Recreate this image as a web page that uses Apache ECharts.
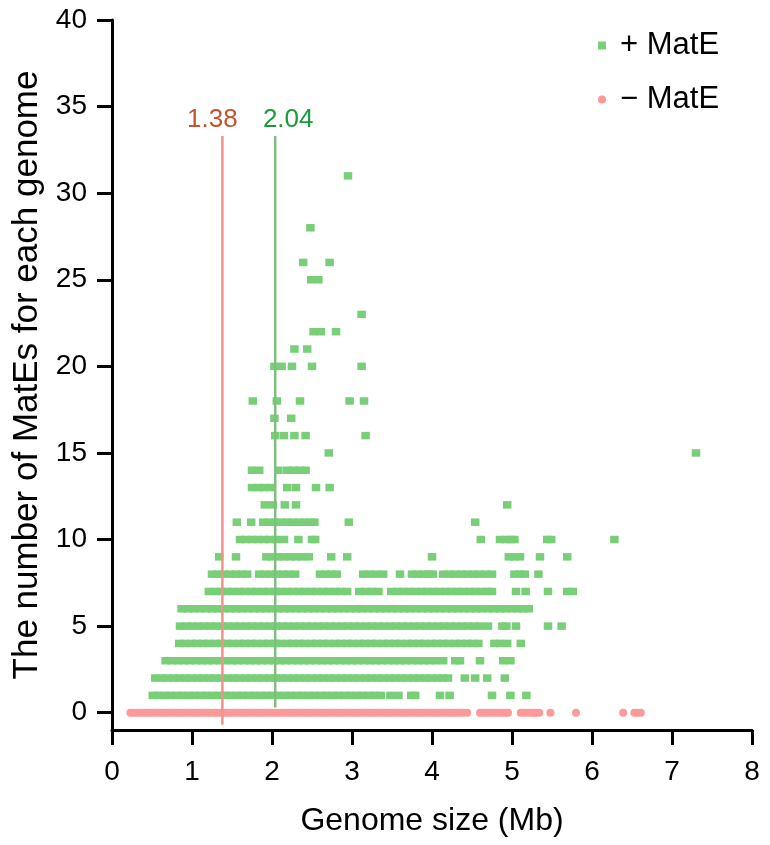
<!DOCTYPE html>
<html>
<head>
<meta charset="UTF-8">
<title>MatEs per genome</title>
<script src="https://cdn.jsdelivr.net/npm/echarts@6/dist/echarts.min.js"></script>
</head>
<body style="margin:0;background:#fff">
<div id="chart" style="width:770px;height:845px;"></div>
<script>
// genome sizes (Mb) of genomes without any MatE (count = 0)
var minusSizes = [0.23,0.27,0.31,0.35,0.39,0.43,0.47,0.51,0.55,0.59,0.63,0.67,0.71,0.75,0.79,0.83,0.87,0.91,0.95,0.99,
  1.03,1.07,1.11,1.15,1.19,1.23,1.27,1.31,1.35,1.39,1.43,1.47,1.51,1.55,1.59,1.63,1.67,1.71,1.75,1.79,1.83,1.87,1.91,1.95,1.99,
  2.03,2.07,2.11,2.15,2.19,2.23,2.27,2.31,2.35,2.39,2.43,2.47,2.51,2.55,2.59,2.63,2.67,2.71,2.75,2.79,2.83,2.87,2.91,2.95,2.99,
  3.03,3.07,3.11,3.15,3.19,3.23,3.27,3.31,3.35,3.39,3.43,3.47,3.51,3.55,3.59,3.63,3.67,3.71,3.75,3.79,3.83,3.87,3.91,3.95,3.99,
  4.03,4.07,4.11,4.15,4.19,4.23,4.27,4.31,4.35,4.39,4.44,4.60,4.64,4.68,4.72,4.76,4.80,4.84,4.88,4.92,4.95,
  5.11,5.15,5.19,5.23,5.27,5.30,5.34,5.48,5.80,6.39,6.53,6.57,6.61];

// genome sizes (Mb) of genomes carrying MatEs, one array per MatE count
var sizes1 = [0.51,0.58,0.66,0.73,0.81,0.88,0.96,1.03,1.11,1.18,1.26,1.33,1.41,1.48,1.56,1.63,1.71,1.78,1.86,1.93,2.01,2.08,2.16,2.23,2.31,2.38,2.46,2.53,2.61,2.68,2.76,2.83,2.91,2.98,3.06,3.13,3.21,3.28,3.36,3.48,3.58,3.74,3.79,4.10,4.22,4.75,4.98,5.18];
var sizes2 = [0.54,0.62,0.69,0.77,0.84,0.92,0.99,1.07,1.14,1.22,1.29,1.37,1.44,1.52,1.59,1.67,1.74,1.82,1.89,1.97,2.04,2.12,2.19,2.27,2.34,2.42,2.49,2.57,2.64,2.72,2.79,2.87,2.94,3.02,3.09,3.17,3.24,3.32,3.39,3.47,3.54,3.62,3.69,3.77,3.84,3.92,3.99,4.07,4.14,4.20,4.41,4.54,4.69,4.91];
var sizes3 = [0.67,0.75,0.82,0.90,0.97,1.05,1.12,1.20,1.27,1.35,1.42,1.50,1.57,1.65,1.72,1.80,1.87,1.95,2.02,2.10,2.17,2.25,2.32,2.40,2.47,2.55,2.62,2.70,2.77,2.85,2.92,3.00,3.07,3.15,3.22,3.30,3.37,3.45,3.52,3.60,3.67,3.75,3.82,3.90,3.97,4.05,4.14,4.29,4.35,4.60,4.89,4.98];
var sizes4 = [0.84,0.91,0.99,1.06,1.14,1.21,1.29,1.36,1.44,1.51,1.59,1.66,1.74,1.81,1.89,1.96,2.04,2.11,2.19,2.26,2.34,2.41,2.49,2.56,2.64,2.71,2.79,2.86,2.94,3.01,3.09,3.16,3.24,3.31,3.39,3.46,3.54,3.61,3.69,3.76,3.84,3.91,3.99,4.06,4.14,4.21,4.29,4.36,4.44,4.51,4.58,4.78,4.85,4.94,5.11];
var sizes5 = [0.85,0.93,1.00,1.08,1.15,1.23,1.30,1.38,1.45,1.53,1.60,1.68,1.75,1.83,1.90,1.98,2.05,2.13,2.20,2.28,2.35,2.43,2.50,2.58,2.65,2.73,2.80,2.88,2.95,3.03,3.10,3.18,3.25,3.33,3.40,3.48,3.55,3.63,3.70,3.78,3.85,3.93,4.00,4.08,4.15,4.23,4.30,4.38,4.45,4.53,4.60,4.70,4.88,4.93,5.05,5.45,5.62];
var sizes6 = [0.87,0.95,1.02,1.10,1.17,1.25,1.32,1.40,1.47,1.55,1.62,1.70,1.77,1.85,1.92,2.00,2.07,2.15,2.22,2.30,2.37,2.45,2.52,2.60,2.67,2.75,2.82,2.90,2.97,3.05,3.12,3.20,3.27,3.35,3.42,3.50,3.57,3.65,3.72,3.80,3.87,3.95,4.02,4.10,4.17,4.25,4.32,4.40,4.47,4.55,4.62,4.70,4.77,4.85,4.92,5.00,5.07,5.14,5.21];
var sizes7 = [1.21,1.29,1.36,1.44,1.51,1.59,1.66,1.74,1.81,1.89,1.96,2.04,2.11,2.19,2.26,2.34,2.41,2.49,2.56,2.64,2.71,2.79,2.86,2.94,3.09,3.17,3.25,3.33,3.49,3.57,3.64,3.72,3.79,3.87,3.94,4.02,4.09,4.17,4.24,4.32,4.39,4.47,4.54,4.62,4.69,4.75,5.05,5.17,5.45,5.69,5.76];
var sizes8 = [1.25,1.32,1.40,1.47,1.55,1.62,1.69,1.84,1.91,1.99,2.06,2.14,2.21,2.29,2.60,2.67,2.74,2.81,3.14,3.22,3.30,3.39,3.60,3.75,3.82,3.89,3.96,4.01,4.14,4.22,4.29,4.37,4.44,4.52,4.59,4.67,4.75,5.03,5.10,5.16,5.33];
var sizes9 = [1.34,1.55,1.93,2.00,2.08,2.15,2.23,2.30,2.38,2.46,2.74,2.94,4.00,4.96,5.03,5.10,5.35,5.69];
var sizes10 = [1.60,1.67,1.75,1.82,1.90,1.97,2.05,2.15,2.33,2.50,2.54,4.61,4.85,4.92,4.98,5.03,5.44,5.49,6.28];
var sizes11 = [1.56,1.74,1.89,1.96,2.04,2.11,2.19,2.26,2.34,2.41,2.48,2.53,2.96,4.54];
var sizes12 = [1.91,2.01,2.16,2.30,4.94];
var sizes13 = [1.75,1.83,1.90,1.98,2.19,2.30,2.55,2.72];
var sizes14 = [1.75,1.84,2.08,2.19,2.27,2.35,2.42];
var sizes15 = [2.71,7.30];
var sizes16 = [2.04,2.15,2.28,2.42,3.17];
var sizes17 = [2.03,2.24];
var sizes18 = [1.76,2.06,2.35,2.97,3.15];
var sizes20 = [2.03,2.12,2.25,2.50,3.12];
var sizes21 = [2.28,2.44];
var sizes22 = [2.52,2.61,2.80];
var sizes23 = [3.12];
var sizes25 = [2.49,2.58];
var sizes26 = [2.39,2.72];
var sizes28 = [2.48];
var sizes31 = [2.95];

var plusCounts = [1,2,3,4,5,6,7,8,9,10,11,12,13,14,15,16,17,18,20,21,22,23,25,26,28,31];
var plusSizes = [sizes1,sizes2,sizes3,sizes4,sizes5,sizes6,sizes7,sizes8,sizes9,sizes10,sizes11,sizes12,sizes13,sizes14,sizes15,sizes16,sizes17,sizes18,sizes20,sizes21,sizes22,sizes23,sizes25,sizes26,sizes28,sizes31];

// median genome sizes
var medianMinus = 1.38;
var medianPlus = 2.04;
var yTicks = [0, 5, 10, 15, 20, 25, 30, 35, 40];

var plusData = [];
plusCounts.forEach(function (n, i) {
  plusSizes[i].forEach(function (x) { plusData.push([x, n]); });
});
var minusData = minusSizes.map(function (x) { return [x, 0]; });

var font = 'Liberation Sans, Arial, sans-serif';

function medianLine(x, bottom, lineColor, textColor, shift) {
  return {
    type: 'line',
    silent: true,
    z: 5,
    symbol: 'circle',
    symbolSize: 0,
    lineStyle: { color: lineColor, width: 2.5 },
    data: [
      [x, bottom],
      { value: [x, 33.3], label: { show: true, position: 'top', distance: 3, offset: [shift, 0],
        formatter: x.toFixed(2), color: textColor, fontSize: 26, fontFamily: font } }
    ]
  };
}

var chart = echarts.init(document.getElementById('chart'), null, { renderer: 'canvas' });
chart.setOption({
  backgroundColor: '#fff',
  animation: false,
  textStyle: { fontFamily: font },
  grid: { left: 112, right: 18, top: 20, bottom: 115 },
  legend: [
    { data: ['+ MatE'], left: 598, top: 30, padding: 0, icon: 'rect', itemWidth: 8, itemHeight: 8,
      textStyle: { fontSize: 31, color: '#000', padding: [0, 0, 0, 9] } },
    { data: ['\u2212 MatE'], left: 598, top: 84, padding: 0, icon: 'circle', itemWidth: 8, itemHeight: 8,
      textStyle: { fontSize: 31, color: '#000', padding: [0, 0, 0, 9] } }
  ],
  xAxis: {
    type: 'value', min: 0, max: 8, interval: 1,
    name: 'Genome size (Mb)', nameLocation: 'middle', nameGap: 75,
    nameTextStyle: { fontSize: 32, color: '#000' },
    axisLine: { show: true, onZero: false, lineStyle: { color: '#000', width: 3 } },
    axisTick: { show: true, length: 15, lineStyle: { color: '#000', width: 3 } },
    axisLabel: { fontSize: 28, color: '#000', margin: 28 },
    splitLine: { show: false }
  },
  yAxis: {
    type: 'value', min: -1, max: 40,
    name: 'The number of MatEs for each genome', nameLocation: 'middle', nameGap: 66,
    nameTextStyle: { fontSize: 35, color: '#000' },
    axisLine: { show: true, onZero: false, lineStyle: { color: '#000', width: 3 } },
    axisTick: { show: true, length: 15, customValues: yTicks, lineStyle: { color: '#000', width: 3 } },
    axisLabel: { fontSize: 28, color: '#000', margin: 25, customValues: yTicks },
    splitLine: { show: false }
  },
  series: [
    { name: '+ MatE', type: 'scatter', symbol: 'rect', symbolSize: [8.5, 7.5],
      itemStyle: { color: '#78cf78', opacity: 1 }, data: plusData },
    { name: '\u2212 MatE', type: 'scatter', symbol: 'circle', symbolSize: 8,
      itemStyle: { color: '#fd9999', opacity: 1 }, data: minusData },
    medianLine(medianMinus, -0.7, '#f4918b', '#c0562f', -10),
    medianLine(medianPlus, 0.3, '#7dbf7b', '#1a9a3c', 13)
  ]
});
</script>
</body>
</html>
